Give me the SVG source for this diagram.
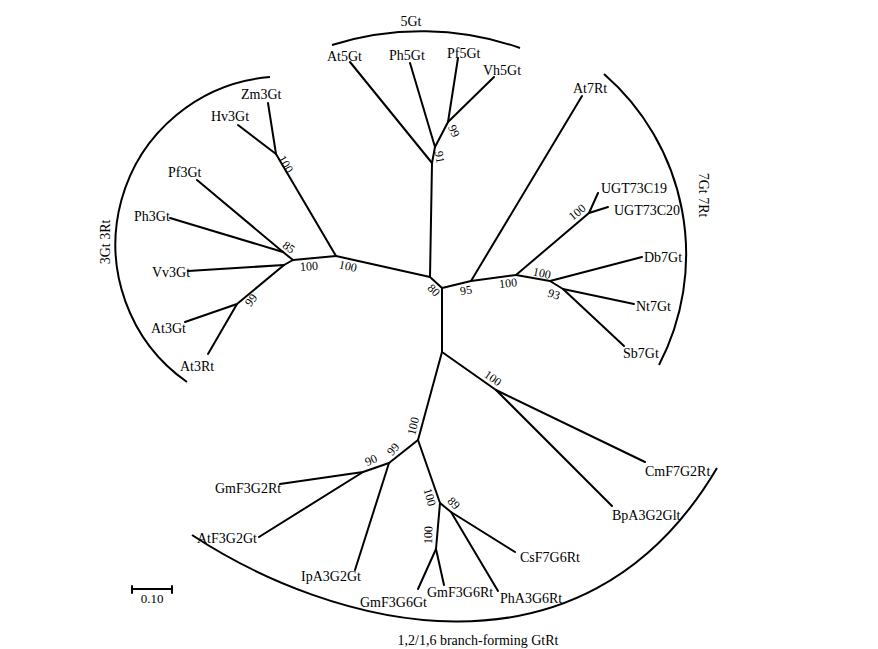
<svg xmlns="http://www.w3.org/2000/svg" width="878" height="649" viewBox="0 0 878 649">
<style>
  .br { fill: none; stroke: #000; stroke-width: 2; stroke-linecap: round; stroke-linejoin: round; }
  .arc { fill: none; stroke: #000; stroke-width: 2; }
  .lbl { font-family: "Liberation Serif", "Times New Roman", serif; font-size: 14px; fill: #000; }
  .bs { font-family: "Liberation Serif", "Times New Roman", serif; font-size: 12px; fill: #000; text-anchor: middle; }
  .cl { font-family: "Liberation Serif", "Times New Roman", serif; font-size: 14px; fill: #000; text-anchor: middle; }
</style>
<rect width="878" height="649" fill="#fff"/>

<g id="connectors" class="br">
  <!-- central -->
  <polyline points="430,277 442,288"/>
  <!-- 5Gt clade -->
  <polyline points="430,277 432,163 435,147 448,122 458,58"/>
  <polyline points="448,122 494,77"/>
  <polyline points="435,147 410,63"/>
  <polyline points="432,163 350,62"/>
  <!-- 3Gt 3Rt clade -->
  <polyline points="430,277 336,256 276,154 268,103"/>
  <polyline points="276,154 238,125"/>
  <polyline points="336,256 293,260 283,252 197,180"/>
  <polyline points="283,252 170,218"/>
  <polyline points="293,260 284,265 188,271"/>
  <polyline points="284,265 237,304 185,322"/>
  <polyline points="237,304 208,354"/>
  <!-- 7Gt 7Rt clade -->
  <polyline points="442,288 471,281 582,96"/>
  <polyline points="471,281 516,275 589,213 598,193"/>
  <polyline points="589,213 608,207"/>
  <polyline points="516,275 550,281 642,257"/>
  <polyline points="550,281 563,289 634,304"/>
  <polyline points="563,289 624,346"/>
  <!-- branch-forming clade -->
  <polyline points="442,288 442,352 496,390 645,462"/>
  <polyline points="496,390 612,506"/>
  <polyline points="442,352 418,440 389,463 363,472 280,484"/>
  <polyline points="363,472 259,537"/>
  <polyline points="389,463 355,570"/>
  <polyline points="418,440 440,503 436,549 418,589"/>
  <polyline points="436,549 444,585"/>
  <polyline points="440,503 451,512 515,552"/>
  <polyline points="451,512 498,591"/>
</g>

<g id="bootstrap">
  <text class="bs" transform="translate(434,290) rotate(45)" dy="0.35em">80</text>
  <text class="bs" transform="translate(440,157) rotate(80)" dy="0.35em">91</text>
  <text class="bs" transform="translate(454,131) rotate(65)" dy="0.35em">99</text>
  <text class="bs" transform="translate(286,164) rotate(60)" dy="0.35em">100</text>
  <text class="bs" transform="translate(348,266) rotate(12)" dy="0.35em">100</text>
  <text class="bs" transform="translate(309,266) rotate(-4)" dy="0.35em">100</text>
  <text class="bs" transform="translate(289,247) rotate(35)" dy="0.35em">85</text>
  <text class="bs" transform="translate(251,300) rotate(-52)" dy="0.35em">99</text>
  <text class="bs" transform="translate(466,290) rotate(-10)" dy="0.35em">95</text>
  <text class="bs" transform="translate(508,283) rotate(-6)" dy="0.35em">100</text>
  <text class="bs" transform="translate(577,212) rotate(-40)" dy="0.35em">100</text>
  <text class="bs" transform="translate(542,273) rotate(12)" dy="0.35em">100</text>
  <text class="bs" transform="translate(554,294) rotate(18)" dy="0.35em">93</text>
  <text class="bs" transform="translate(493,378) rotate(35)" dy="0.35em">100</text>
  <text class="bs" transform="translate(413,426) rotate(-76)" dy="0.35em">100</text>
  <text class="bs" transform="translate(393,449) rotate(-50)" dy="0.35em">99</text>
  <text class="bs" transform="translate(371,460) rotate(-25)" dy="0.35em">90</text>
  <text class="bs" transform="translate(430,497) rotate(75)" dy="0.35em">100</text>
  <text class="bs" transform="translate(428,535) rotate(-88)" dy="0.35em">100</text>
  <text class="bs" transform="translate(454,503) rotate(45)" dy="0.35em">89</text>
</g>

<g id="n-At5Gt"><text class="lbl" x="327" y="61">At5Gt</text></g>
<g id="n-Ph5Gt"><text class="lbl" x="389" y="60">Ph5Gt</text></g>
<g id="n-Pf5Gt"><text class="lbl" x="447" y="58">Pf5Gt</text></g>
<g id="n-Vh5Gt"><text class="lbl" x="483" y="75">Vh5Gt</text></g>
<g id="n-Zm3Gt"><text class="lbl" x="241" y="99">Zm3Gt</text></g>
<g id="n-Hv3Gt"><text class="lbl" x="211" y="121">Hv3Gt</text></g>
<g id="n-Pf3Gt"><text class="lbl" x="168" y="177">Pf3Gt</text></g>
<g id="n-Ph3Gt"><text class="lbl" x="134" y="221">Ph3Gt</text></g>
<g id="n-Vv3Gt"><text class="lbl" x="152" y="277">Vv3Gt</text></g>
<g id="n-At3Gt"><text class="lbl" x="151" y="333">At3Gt</text></g>
<g id="n-At3Rt"><text class="lbl" x="180" y="371">At3Rt</text></g>
<g id="n-At7Rt"><text class="lbl" x="573" y="93">At7Rt</text></g>
<g id="n-UGT73C19"><text class="lbl" x="601" y="193">UGT73C19</text></g>
<g id="n-UGT73C20"><text class="lbl" x="614" y="215">UGT73C20</text></g>
<g id="n-Db7Gt"><text class="lbl" x="644" y="262">Db7Gt</text></g>
<g id="n-Nt7Gt"><text class="lbl" x="636" y="311">Nt7Gt</text></g>
<g id="n-Sb7Gt"><text class="lbl" x="623" y="358">Sb7Gt</text></g>
<g id="n-CmF7G2Rt"><text class="lbl" x="645" y="476">CmF7G2Rt</text></g>
<g id="n-BpA3G2Glt"><text class="lbl" x="612" y="520">BpA3G2Glt</text></g>
<g id="n-GmF3G2Rt"><text class="lbl" x="215" y="493">GmF3G2Rt</text></g>
<g id="n-AtF3G2Gt"><text class="lbl" x="197" y="543">AtF3G2Gt</text></g>
<g id="n-IpA3G2Gt"><text class="lbl" x="301" y="581">IpA3G2Gt</text></g>
<g id="n-GmF3G6Gt"><text class="lbl" x="360" y="607">GmF3G6Gt</text></g>
<g id="n-GmF3G6Rt"><text class="lbl" x="427" y="597">GmF3G6Rt</text></g>
<g id="n-PhA3G6Rt"><text class="lbl" x="500" y="603">PhA3G6Rt</text></g>
<g id="n-CsF7G6Rt"><text class="lbl" x="520" y="562">CsF7G6Rt</text></g>

<g id="clades">
  <path class="arc" d="M332,45 A298,298 0 0 1 520,48"/>
  <text class="cl" x="411" y="26">5Gt</text>
  <path class="arc" d="M270,77 A168,168 0 0 0 187,382"/>
  <text class="cl" transform="translate(110,242) rotate(-90)">3Gt 3Rt</text>
  <path class="arc" d="M604,74 A239,239 0 0 1 659,365"/>
  <text class="cl" transform="translate(699,195) rotate(90)">7Gt 7Rt</text>
  <path class="arc" d="M192,535 C329,625 581,698 717,468"/>
  <text class="cl" x="478" y="645">1,2/1,6 branch-forming GtRt</text>
</g>

<g id="scale">
  <polyline class="br" points="132,586 132,593"/>
  <polyline class="br" points="172,586 172,593"/>
  <polyline class="br" points="132,589 172,589"/>
  <text class="cl" x="152" y="603" style="font-size:13px">0.10</text>
</g>
</svg>
